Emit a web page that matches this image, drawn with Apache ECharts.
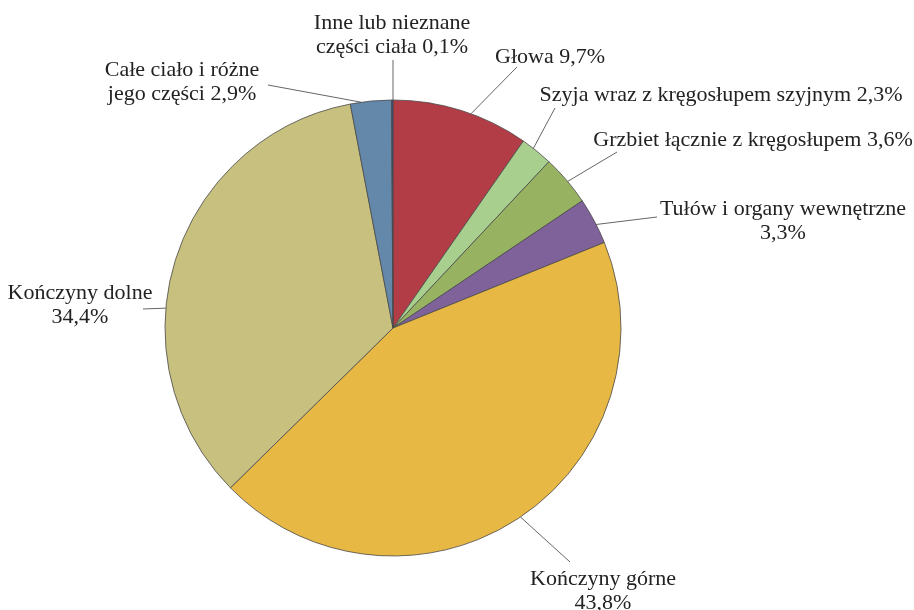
<!DOCTYPE html>
<html><head><meta charset="utf-8">
<script src="https://cdn.jsdelivr.net/npm/echarts@6/dist/echarts.min.js"></script>
<style>html,body{margin:0;padding:0;background:#fff}#c{width:914px;height:610px}</style>
</head><body><div id="c"></div>
<script>
const categories = ['Głowa', 'Szyja wraz z kręgosłupem szyjnym', 'Grzbiet łącznie z kręgosłupem', 'Tułów i organy wewnętrzne', 'Kończyny górne', 'Kończyny dolne', 'Całe ciało i różne jego części', 'Inne lub nieznane części ciała'];
const values = [9.7, 2.3, 3.6, 3.3, 43.8, 34.4, 2.9, 0.1];
const labelTexts = ['Głowa 9,7%', 'Szyja wraz z kręgosłupem szyjnym 2,3%', 'Grzbiet łącznie z kręgosłupem 3,6%', 'Tułów i organy wewnętrzne\n3,3%', 'Kończyny górne\n43,8%', 'Kończyny dolne\n34,4%', 'Całe ciało i różne\njego części 2,9%', 'Inne lub nieznane\nczęści ciała 0,1%'];
const colors = ['#B33D47', '#A8CF8E', '#97B260', '#7F629A', '#E8B845', '#C7C07F', '#6488AA', '#3A4F8A'];
// label layout: [labelCenterX, labelCenterY, lineEndX, lineEndY, lineStartAngleDeg (clockwise from top)]
const labelPlaces = [
  [550, 57, 517, 67, 20],
  [721, 95, 555, 108, 38],
  [753, 140, 617, 152, 50],
  [783, 221, 657, 217, 63],
  [603, 591, 570, 562, 146],
  [80, 305, 143, 309, 275],
  [182, 82, 268, 85, -8],
  [392, 35, 393, 60, 0]
];
const CX = 393, CY = 328, R = 228;
const chart = echarts.init(document.getElementById('c'), null, {renderer: 'canvas'});
chart.setOption({
  animation: false,
  series: [{
    type: 'pie',
    center: [CX, CY],
    radius: R,
    startAngle: 90,
    clockwise: true,
    avoidLabelOverlap: false,
    data: categories.map((n, i) => ({name: n, value: values[i], itemStyle: {color: colors[i]}})),
    itemStyle: {borderColor: '#4a4a4a', borderWidth: 0.8},
    label: {
      show: true,
      position: 'outside',
      formatter: p => labelTexts[p.dataIndex],
      fontFamily: "'Liberation Serif', 'DejaVu Serif', serif",
      fontSize: 22,
      lineHeight: 24,
      color: '#222',
      align: 'center'
    },
    labelLine: {show: true, length: 10, length2: 0, lineStyle: {color: '#666', width: 1}},
    labelLayout: function (params) {
      const p = labelPlaces[params.dataIndex];
      const a = p[4] * Math.PI / 180;
      const start = [CX + R * Math.sin(a), CY - R * Math.cos(a)];
      return {
        x: p[0], y: p[1], align: 'center', verticalAlign: 'middle',
        labelLinePoints: [start, [p[2], p[3]]]
      };
    }
  }]
});
</script></body></html>
